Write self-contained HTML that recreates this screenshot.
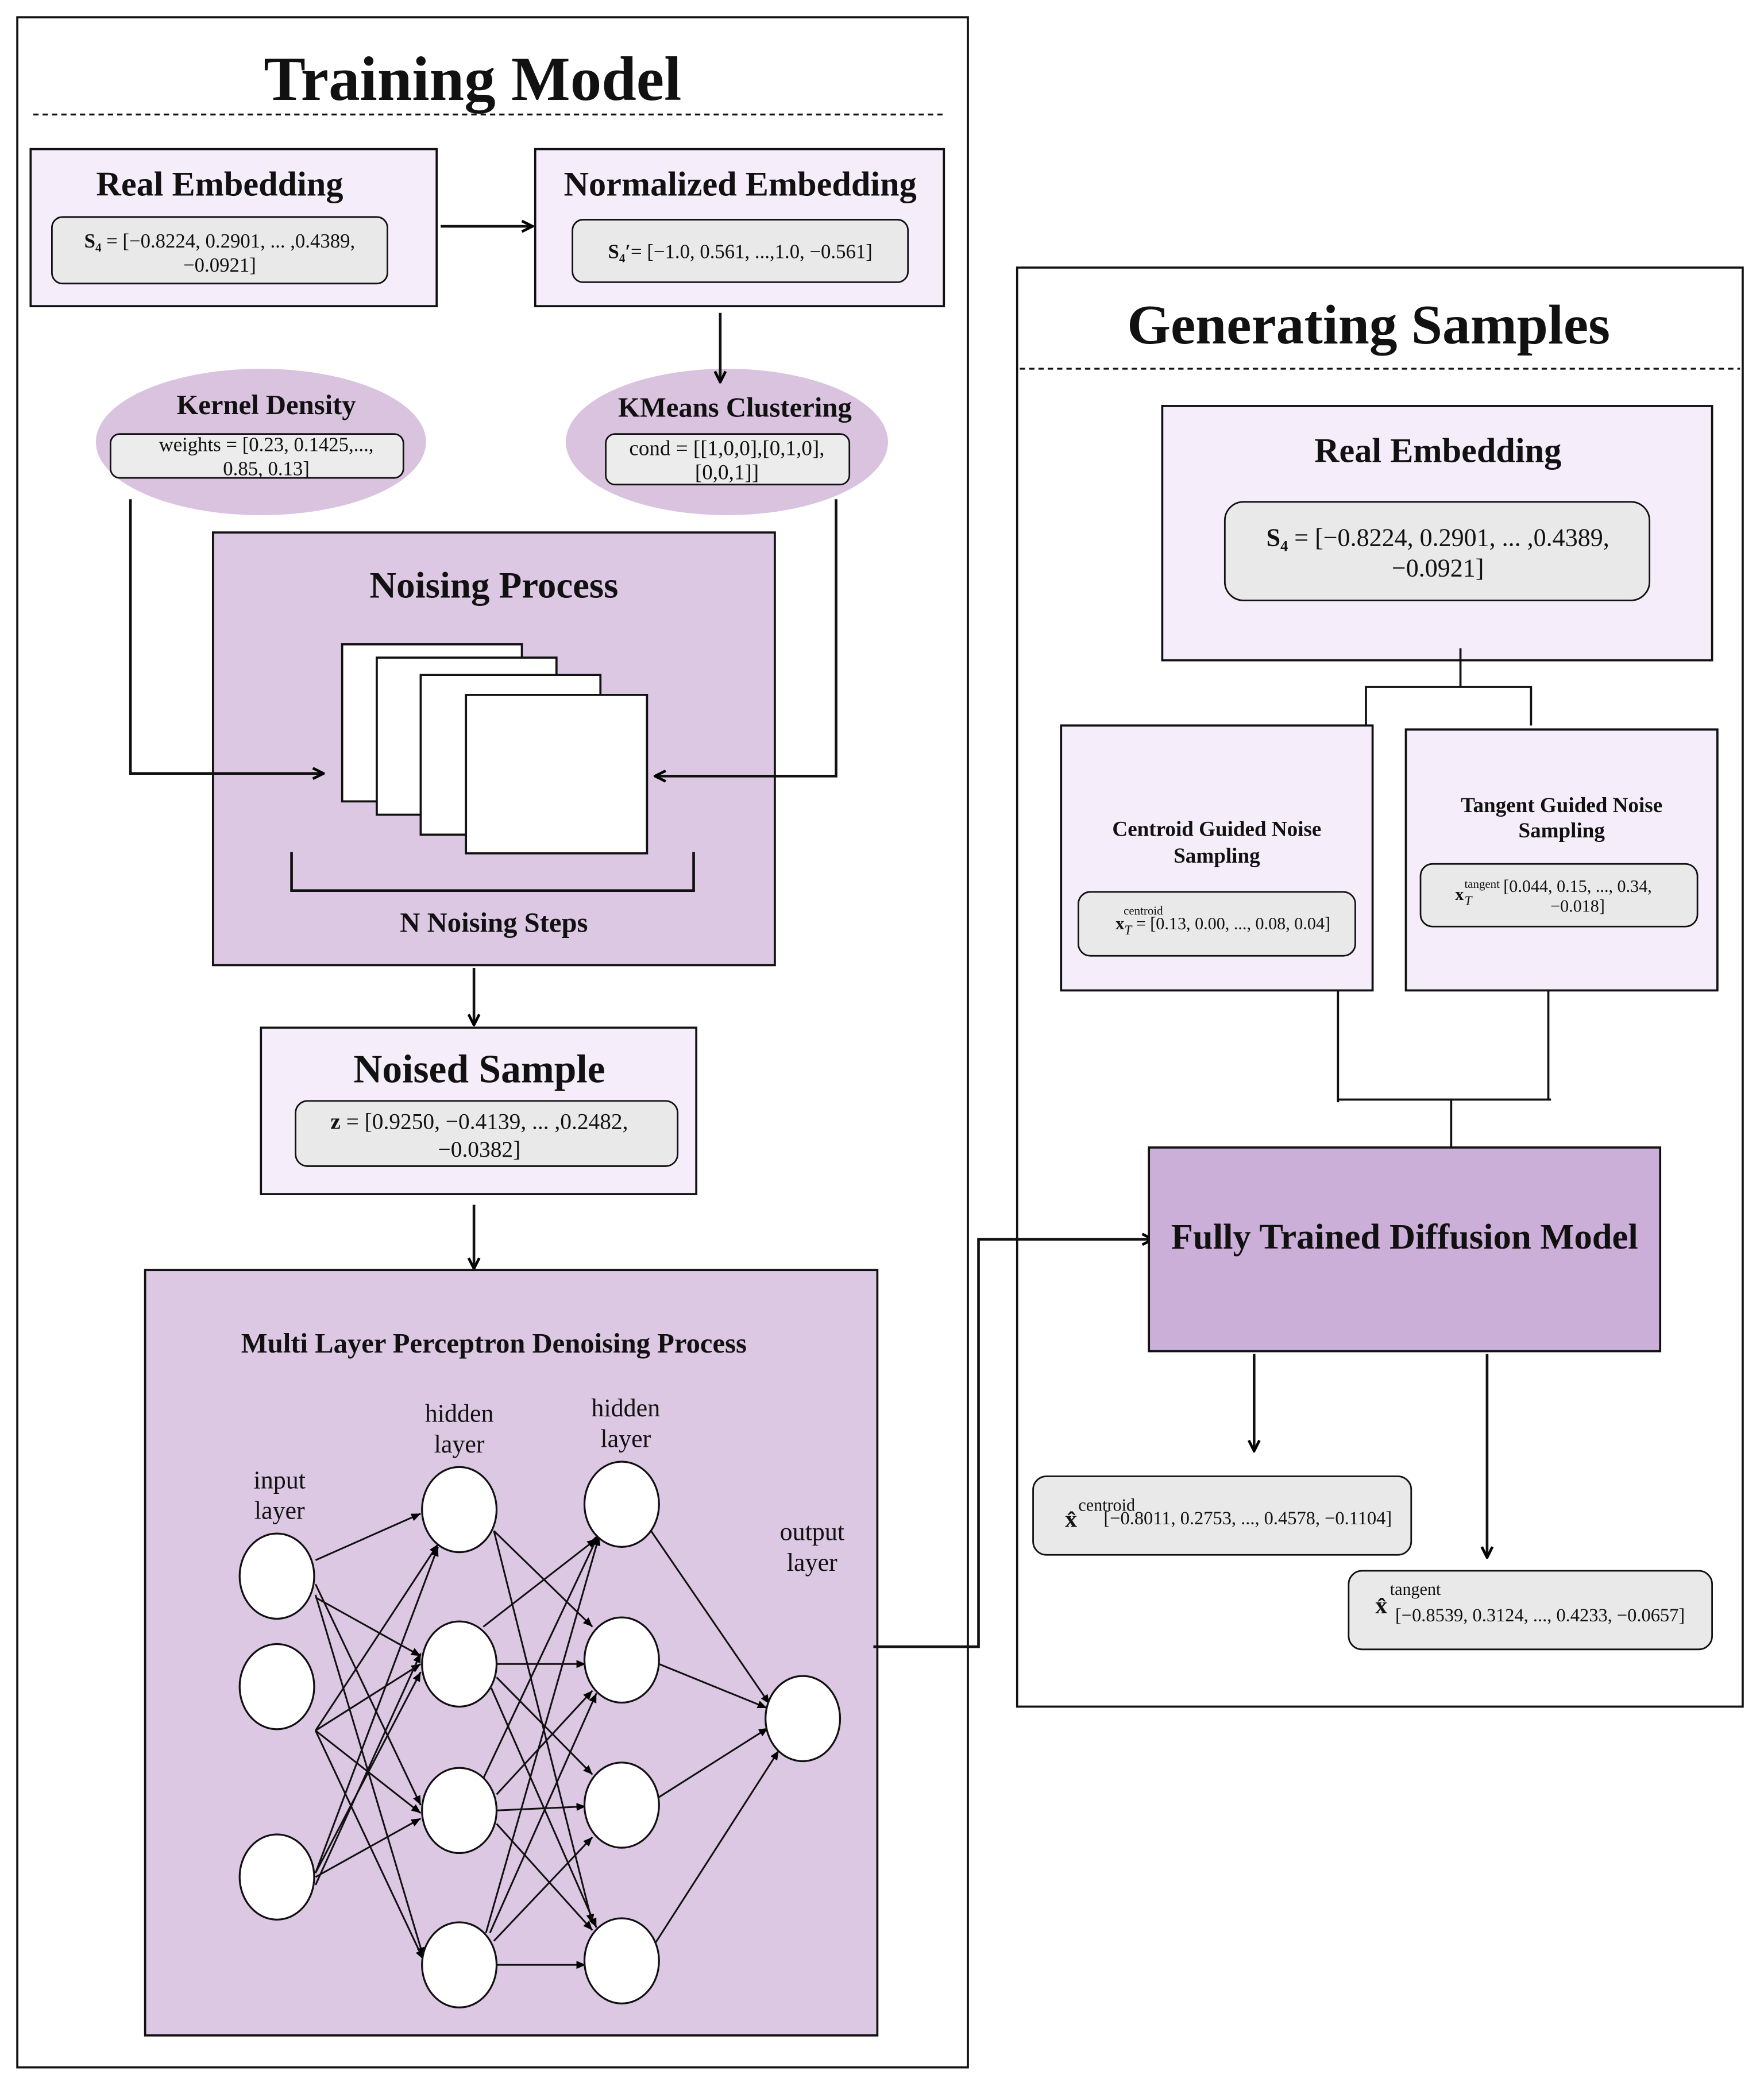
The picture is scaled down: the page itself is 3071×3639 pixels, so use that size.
<!DOCTYPE html>
<html><head><meta charset="utf-8"><style>
html,body{margin:0;padding:0;background:#fff;}
svg{display:block;}
text{font-family:"Liberation Serif",serif;fill:#111;}
.b{font-weight:bold;}
</style></head><body>
<svg width="3071" height="3639" viewBox="0 0 1325 1570" preserveAspectRatio="none" xmlns="http://www.w3.org/2000/svg">
<defs>
<marker id="a" markerWidth="10" markerHeight="10" refX="9" refY="5" orient="auto" markerUnits="userSpaceOnUse"><path d="M1,1 L9,5 L1,9" fill="none" stroke="#000" stroke-width="2"/></marker>
<marker id="s" markerWidth="8" markerHeight="8" refX="7" refY="4" orient="auto" markerUnits="userSpaceOnUse"><path d="M0,1 L7,4 L0,7 z" fill="#000"/></marker>
</defs>
<rect width="1325" height="1570" fill="#fff"/>
<g stroke="#111" stroke-width="1.6" fill="none">
<rect x="13" y="13" width="714" height="1540"/>
<line x1="25" y1="86" x2="710" y2="86" stroke-dasharray="4,3" stroke-width="1.4"/>
<rect x="23" y="112" width="305" height="118" fill="#f5eefa"/>
<rect x="39" y="163" width="252" height="50" rx="8" fill="#e9e9e9" stroke-width="1.2"/>
<rect x="402" y="112" width="307" height="118" fill="#f5eefa"/>
<rect x="430" y="165" width="252" height="47" rx="8" fill="#e9e9e9" stroke-width="1.2"/>
<line x1="331" y1="170" x2="400" y2="170" marker-end="url(#a)" stroke-width="2"/>
<ellipse cx="196" cy="332" rx="124" ry="55" fill="#d9c3df" stroke="none"/>
<rect x="83" y="326" width="220" height="33" rx="7" fill="#ececec" stroke-width="1.2"/>
<ellipse cx="546" cy="332" rx="121" ry="55" fill="#d9c3df" stroke="none"/>
<rect x="455" y="326" width="183" height="38" rx="7" fill="#ececec" stroke-width="1.2"/>
<line x1="541" y1="235" x2="541" y2="287" marker-end="url(#a)" stroke-width="2"/>
<rect x="160" y="400" width="422" height="325" fill="#dcc8e3"/>
<polyline points="98,375 98,581 243,581" marker-end="url(#a)" stroke-width="2"/>
<polyline points="628,375 628,583 492,583" marker-end="url(#a)" stroke-width="2"/>
<rect x="257" y="484" width="135" height="118" fill="#fff"/>
<rect x="283" y="494" width="135" height="118" fill="#fff"/>
<rect x="316" y="507" width="135" height="120" fill="#fff"/>
<rect x="350" y="522" width="136" height="119" fill="#fff"/>
<polyline points="219,640 219,669 521,669 521,640" stroke-width="2"/>
<line x1="356" y1="727" x2="356" y2="770" marker-end="url(#a)" stroke-width="2"/>
<rect x="196" y="772" width="327" height="125" fill="#f5eefa"/>
<rect x="222" y="827" width="287" height="49" rx="9" fill="#e9e9e9" stroke-width="1.2"/>
<line x1="356" y1="905" x2="356" y2="953" marker-end="url(#a)" stroke-width="2"/>
<rect x="109" y="954" width="550" height="575" fill="#dcc8e3"/>
<polyline points="656,1237 735,1237 735,931 866,931" marker-end="url(#a)" stroke-width="2"/>
<rect x="764" y="201" width="545" height="1081"/>
<line x1="766" y1="277" x2="1307" y2="277" stroke-dasharray="4,3" stroke-width="1.4"/>
<rect x="873" y="305" width="413" height="191" fill="#f5eefa"/>
<rect x="920" y="377" width="319" height="74" rx="14" fill="#e9e9e9" stroke-width="1.2"/>
<polyline points="1097,487 1097,516"/>
<polyline points="1026,545 1026,516 1150,516 1150,545"/>
<rect x="797" y="545" width="234" height="199" fill="#f5eefa"/>
<rect x="810" y="670" width="208" height="48" rx="9" fill="#e9e9e9" stroke-width="1.2"/>
<rect x="1056" y="548" width="234" height="196" fill="#f5eefa"/>
<rect x="1067" y="649" width="208" height="47" rx="9" fill="#e9e9e9" stroke-width="1.2"/>
<polyline points="1005,744 1005,828"/>
<polyline points="1163,744 1163,826"/>
<polyline points="1005,826 1165,826"/>
<polyline points="1090,826 1090,862"/>
<rect x="863" y="862" width="384" height="153" fill="#cbafd9"/>
<line x1="942" y1="1017" x2="942" y2="1090" marker-end="url(#a)" stroke-width="2"/>
<line x1="1117" y1="1017" x2="1117" y2="1170" marker-end="url(#a)" stroke-width="2"/>
<rect x="776" y="1109" width="284" height="59" rx="10" fill="#e9e9e9" stroke-width="1.2"/>
<rect x="1013" y="1180" width="273" height="59" rx="10" fill="#e9e9e9" stroke-width="1.2"/>
</g>
<g stroke="#111" stroke-width="1.3" marker-end="url(#s)">
<line x1="237" y1="1172" x2="316" y2="1137"/>
<line x1="237" y1="1190" x2="316" y2="1356"/>
<line x1="237" y1="1198" x2="318" y2="1470"/>
<line x1="237" y1="1300" x2="329" y2="1160"/>
<line x1="237" y1="1300" x2="316" y2="1250"/>
<line x1="237" y1="1300" x2="316" y2="1362"/>
<line x1="237" y1="1300" x2="318" y2="1472"/>
<line x1="237" y1="1407" x2="329" y2="1162"/>
<line x1="237" y1="1407" x2="316" y2="1256"/>
<line x1="237" y1="1410" x2="316" y2="1366"/>
<line x1="237" y1="1200" x2="316" y2="1244"/>
<line x1="237" y1="1416" x2="316" y2="1242"/>
<line x1="371" y1="1150" x2="445" y2="1222"/>
<line x1="371" y1="1150" x2="445" y2="1445"/>
<line x1="363" y1="1222" x2="448" y2="1156"/>
<line x1="373" y1="1250" x2="440" y2="1250"/>
<line x1="373" y1="1260" x2="445" y2="1333"/>
<line x1="369" y1="1268" x2="448" y2="1448"/>
<line x1="363" y1="1336" x2="450" y2="1152"/>
<line x1="373" y1="1348" x2="445" y2="1270"/>
<line x1="373" y1="1360" x2="440" y2="1357"/>
<line x1="373" y1="1370" x2="445" y2="1450"/>
<line x1="365" y1="1452" x2="450" y2="1154"/>
<line x1="368" y1="1452" x2="448" y2="1272"/>
<line x1="371" y1="1458" x2="445" y2="1380"/>
<line x1="373" y1="1476" x2="440" y2="1476"/>
<line x1="489" y1="1150" x2="578" y2="1280"/>
<line x1="495" y1="1250" x2="576" y2="1283"/>
<line x1="495" y1="1350" x2="577" y2="1298"/>
<line x1="492" y1="1460" x2="585" y2="1315"/>
</g>
<g fill="#fff" stroke="#111" stroke-width="1.4">
<ellipse cx="208" cy="1184" rx="28" ry="32"/><ellipse cx="208" cy="1267" rx="28" ry="32"/><ellipse cx="208" cy="1410" rx="28" ry="32"/>
<ellipse cx="345" cy="1134" rx="28" ry="32"/><ellipse cx="345" cy="1250" rx="28" ry="32"/><ellipse cx="345" cy="1360" rx="28" ry="32"/><ellipse cx="345" cy="1476" rx="28" ry="32"/>
<ellipse cx="467" cy="1130" rx="28" ry="32"/><ellipse cx="467" cy="1247" rx="28" ry="32"/><ellipse cx="467" cy="1356" rx="28" ry="32"/><ellipse cx="467" cy="1473" rx="28" ry="32"/>
<ellipse cx="603" cy="1291" rx="28" ry="32"/>
</g>
<g text-anchor="middle">
<text x="355" y="75" class="b" font-size="47">Training Model</text>
<text x="165" y="147" class="b" font-size="26">Real Embedding</text>
<text x="165" y="186" class="b" font-size="15">S₄ <tspan font-weight="normal">= [−0.8224,  0.2901, ... ,0.4389,</tspan></text>
<text x="165" y="204" font-size="15">−0.0921]</text>
<text x="556" y="147" class="b" font-size="26">Normalized Embedding</text>
<text x="556" y="194" font-size="15"><tspan font-weight="bold">S₄′</tspan>= [−1.0, 0.561, ...,1.0, −0.561]</text>
<text x="200" y="311" class="b" font-size="21">Kernel Density</text>
<text x="200" y="339" font-size="15">weights = [0.23, 0.1425,...,</text>
<text x="200" y="357" font-size="15">0.85, 0.13]</text>
<text x="552" y="313" class="b" font-size="21">KMeans Clustering</text>
<text x="546" y="342" font-size="16">cond = [[1,0,0],[0,1,0],</text>
<text x="546" y="360" font-size="16">[0,0,1]]</text>
<text x="371" y="449" class="b" font-size="28">Noising Process</text>
<text x="371" y="700" class="b" font-size="21">N Noising Steps</text>
<text x="360" y="813" class="b" font-size="30">Noised Sample</text>
<text x="360" y="848" font-size="17"><tspan font-weight="bold">z</tspan> = [0.9250, −0.4139, ... ,0.2482,</text>
<text x="360" y="869" font-size="17">−0.0382]</text>
<text x="371" y="1016" class="b" font-size="21">Multi Layer Perceptron Denoising Process</text>
<text x="210" y="1118" font-size="19">input</text><text x="210" y="1141" font-size="19">layer</text>
<text x="345" y="1068" font-size="19">hidden</text><text x="345" y="1091" font-size="19">layer</text>
<text x="470" y="1064" font-size="19">hidden</text><text x="470" y="1087" font-size="19">layer</text>
<text x="610" y="1157" font-size="19">output</text><text x="610" y="1180" font-size="19">layer</text>
<text x="1028" y="258" class="b" font-size="42">Generating Samples</text>
<text x="1080" y="347" class="b" font-size="26">Real Embedding</text>
<text x="1080" y="410" font-size="19"><tspan font-weight="bold">S₄</tspan> = [−0.8224,  0.2901, ... ,0.4389,</text>
<text x="1080" y="433" font-size="19">−0.0921]</text>
<text x="914" y="628" class="b" font-size="16">Centroid Guided Noise</text>
<text x="914" y="648" class="b" font-size="16">Sampling</text>
<text x="1173" y="610" class="b" font-size="16">Tangent Guided Noise</text>
<text x="1173" y="629" class="b" font-size="16">Sampling</text>
<text x="1185" y="670" font-size="13">[0.044, 0.15, ..., 0.34,</text>
<text x="1185" y="685" font-size="13">−0.018]</text>
<text x="1055" y="938" class="b" font-size="27">Fully Trained Diffusion Model</text>
</g>
<text x="838" y="698" font-size="13"><tspan font-weight="bold">x</tspan><tspan font-style="italic" dy="4" font-size="10">T</tspan><tspan dy="-4"> = [0.13, 0.00, ..., 0.08, 0.04]</tspan></text>
<text x="844" y="687" font-size="9">centroid</text>
<text x="1093" y="676" font-size="13" font-weight="bold">x</text><text x="1100" y="680" font-size="10" font-style="italic">T</text>
<text x="1100" y="667" font-size="9">tangent</text>
<text x="800" y="1147" font-size="18" font-weight="bold">x̂</text>
<text x="810" y="1135" font-size="13">centroid</text>
<text x="829" y="1145" font-size="14">[−0.8011, 0.2753, ..., 0.4578, −0.1104]</text>
<text x="1033" y="1212" font-size="18" font-weight="bold">x̂</text>
<text x="1044" y="1198" font-size="13">tangent</text>
<text x="1048" y="1218" font-size="14">[−0.8539, 0.3124, ..., 0.4233, −0.0657]</text>
</svg>
</body></html>
